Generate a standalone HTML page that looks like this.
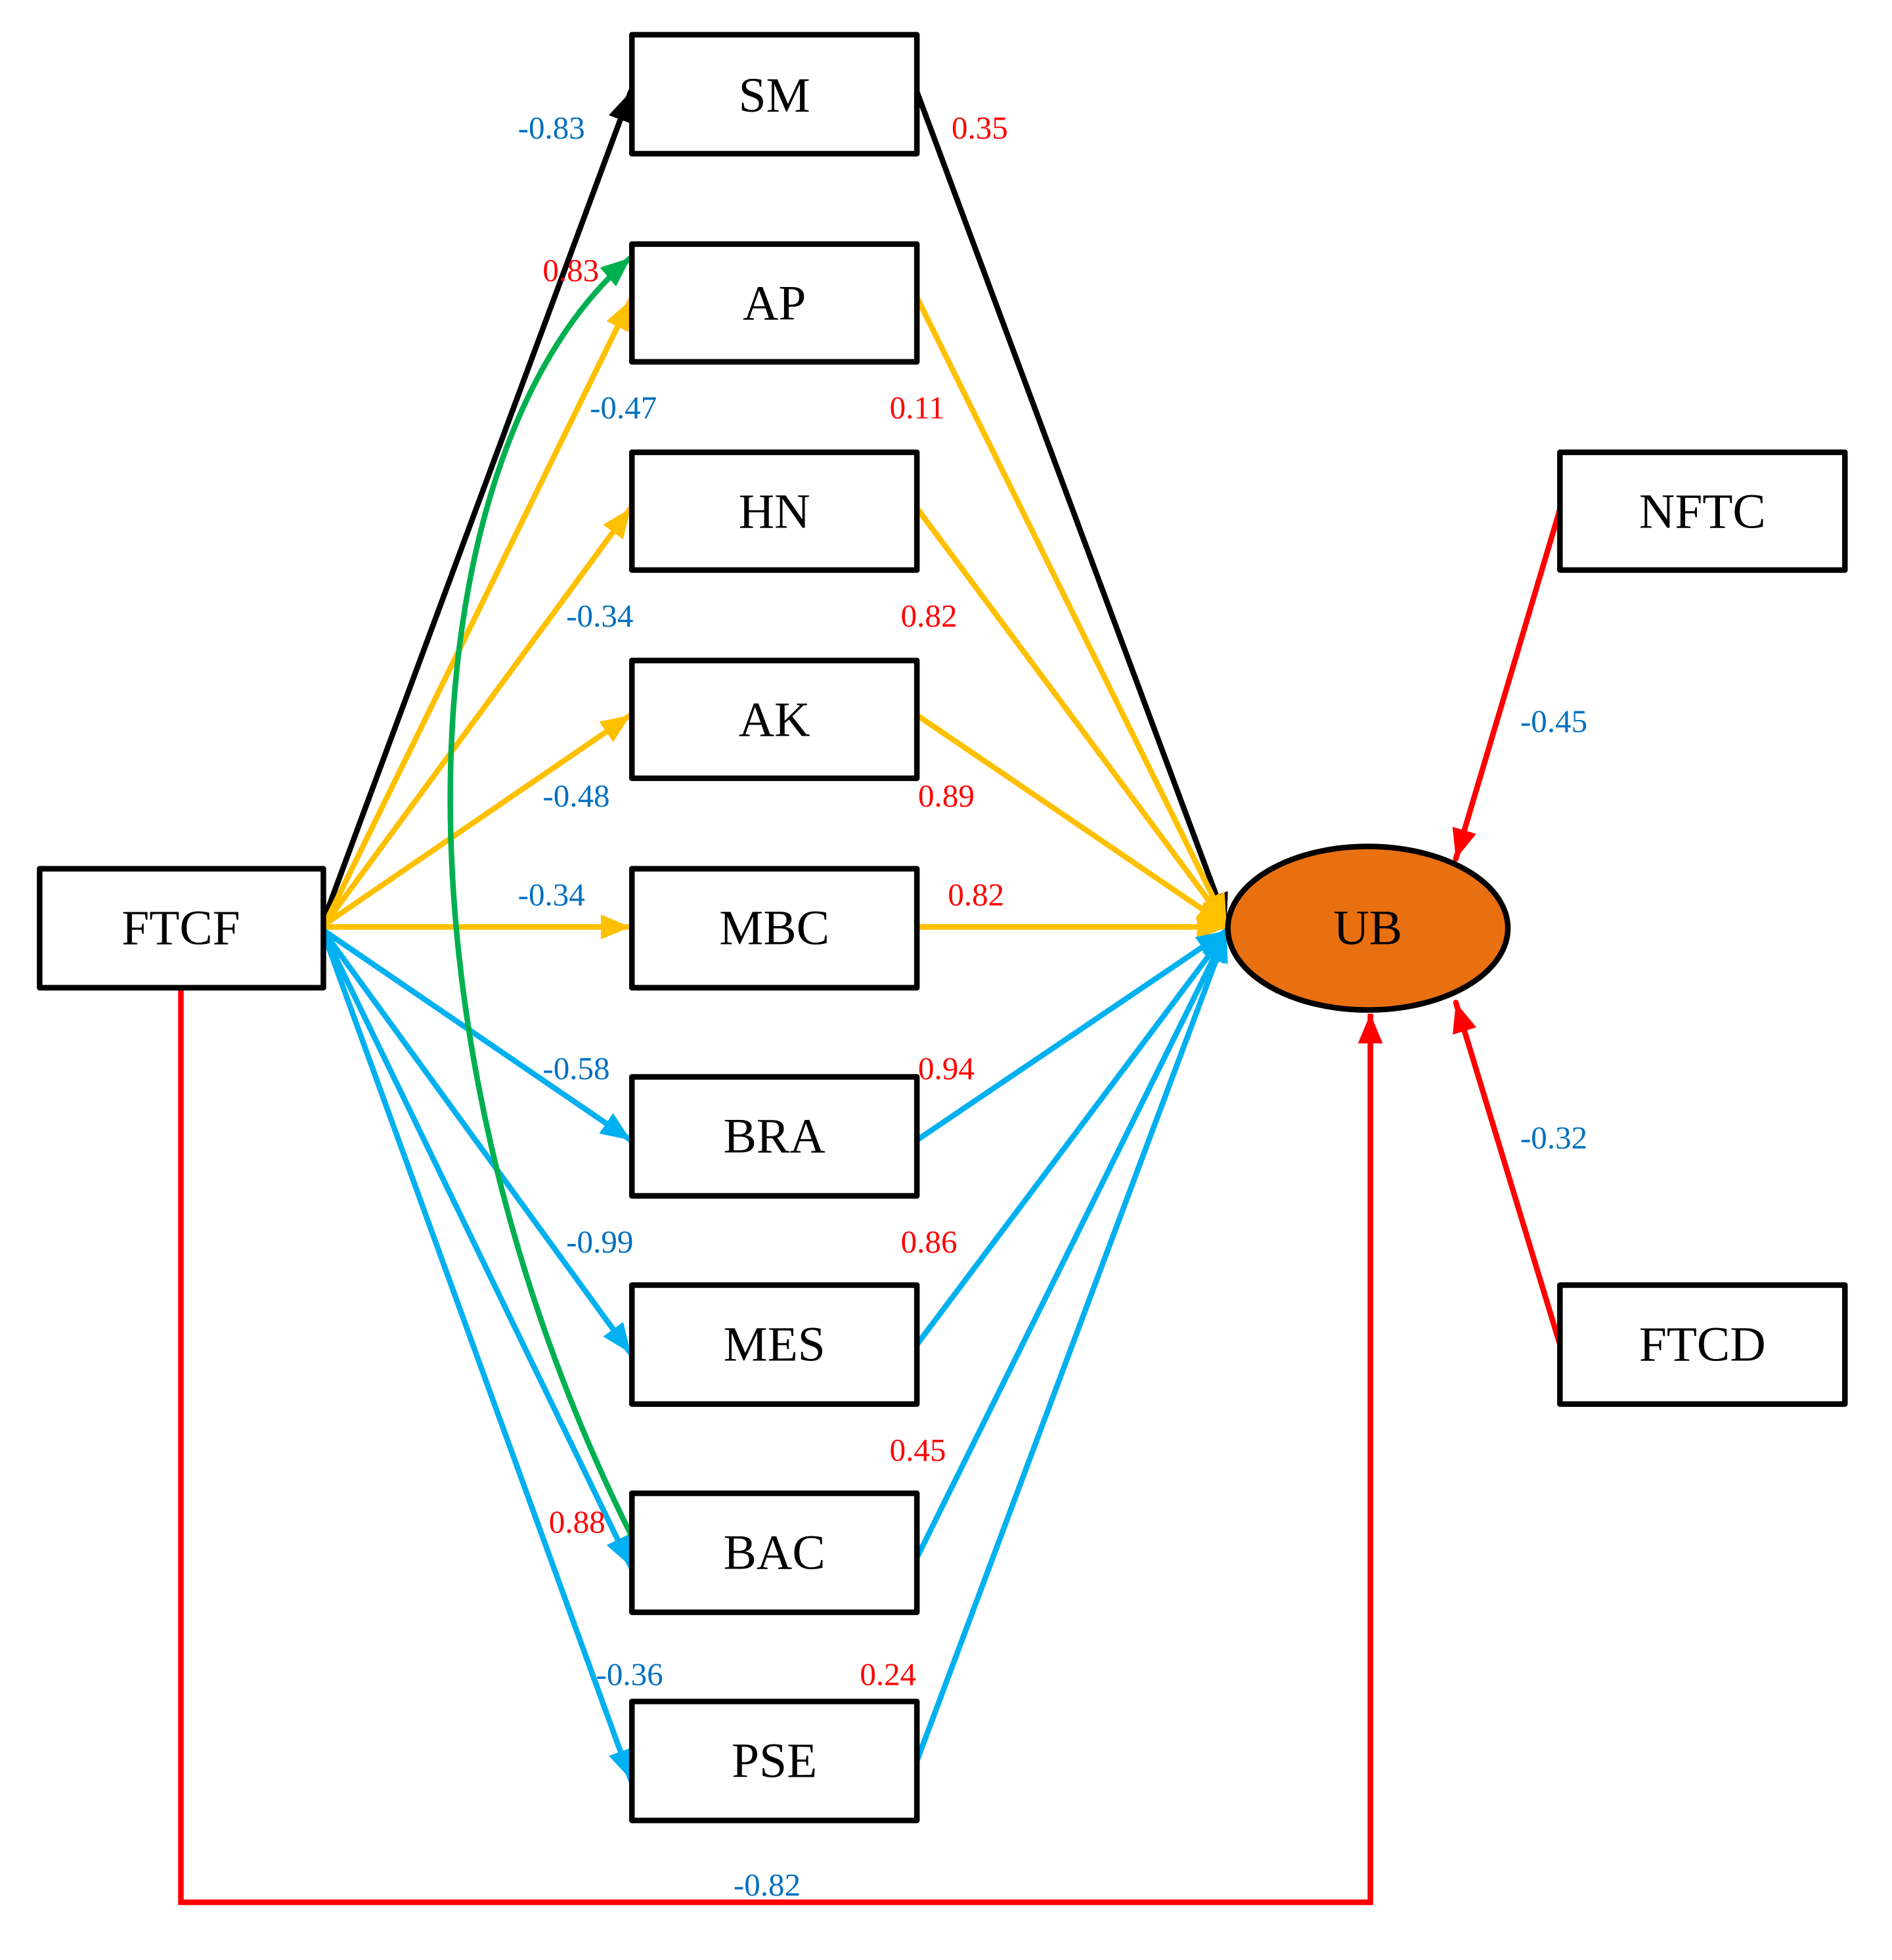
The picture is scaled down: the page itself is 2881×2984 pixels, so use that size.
<!DOCTYPE html>
<html><head><meta charset="utf-8"><style>
html,body{margin:0;padding:0;background:#fff}
svg{display:block}
text{font-family:"Liberation Serif",serif}
.n{font-size:40px;fill:#000;text-anchor:middle;dominant-baseline:central}
.b{font-size:26px;fill:#0070C0;dominant-baseline:central}
.r{font-size:26px;fill:#FF0000;dominant-baseline:central}
</style></head><body>
<svg width="2881" height="2984" viewBox="0 0 1527 1581.6" xmlns="http://www.w3.org/2000/svg">
<defs>
<marker id="mk" markerUnits="userSpaceOnUse" markerWidth="28" markerHeight="22" refX="24" refY="10" orient="auto"><path d="M0,0 L24,10 L0,20 Z" fill="#000"/></marker>
<marker id="my" markerUnits="userSpaceOnUse" markerWidth="28" markerHeight="22" refX="24" refY="10" orient="auto"><path d="M0,0 L24,10 L0,20 Z" fill="#FFC000"/></marker>
<marker id="mb" markerUnits="userSpaceOnUse" markerWidth="28" markerHeight="22" refX="24" refY="10" orient="auto"><path d="M0,0 L24,10 L0,20 Z" fill="#00B0F0"/></marker>
<marker id="mg" markerUnits="userSpaceOnUse" markerWidth="28" markerHeight="22" refX="24" refY="10" orient="auto"><path d="M0,0 L24,10 L0,20 Z" fill="#00B050"/></marker>
<marker id="mr" markerUnits="userSpaceOnUse" markerWidth="28" markerHeight="22" refX="24" refY="10" orient="auto"><path d="M0,0 L24,10 L0,20 Z" fill="#FF0000"/></marker>
</defs>
<g fill="none" stroke-width="4.5" stroke-linecap="round">
<!-- FTCF to boxes -->
<line x1="260" y1="746" x2="509" y2="74" stroke="#000" marker-end="url(#mk)"/>
<line x1="262" y1="746" x2="509" y2="242" stroke="#FFC000" marker-end="url(#my)"/>
<line x1="262" y1="746" x2="509" y2="410" stroke="#FFC000" marker-end="url(#my)"/>
<line x1="262" y1="746" x2="509" y2="577" stroke="#FFC000" marker-end="url(#my)"/>
<line x1="262" y1="748" x2="509" y2="748" stroke="#FFC000" marker-end="url(#my)"/>
<line x1="260" y1="750" x2="509" y2="920" stroke="#00B0F0" marker-end="url(#mb)"/>
<line x1="260" y1="750" x2="509" y2="1092" stroke="#00B0F0" marker-end="url(#mb)"/>
<line x1="260" y1="750" x2="509" y2="1264" stroke="#00B0F0" marker-end="url(#mb)"/>
<line x1="260" y1="750" x2="509" y2="1436" stroke="#00B0F0" marker-end="url(#mb)"/>
<!-- boxes to UB -->
<line x1="740" y1="74" x2="990" y2="745" stroke="#000" marker-end="url(#mk)"/>
<line x1="740" y1="240" x2="990" y2="746" stroke="#FFC000" marker-end="url(#my)"/>
<line x1="740" y1="410" x2="990" y2="746" stroke="#FFC000" marker-end="url(#my)"/>
<line x1="740" y1="577" x2="990" y2="747" stroke="#FFC000" marker-end="url(#my)"/>
<line x1="740" y1="748" x2="990" y2="748" stroke="#FFC000" marker-end="url(#my)"/>
<line x1="740" y1="920" x2="990" y2="751" stroke="#00B0F0" marker-end="url(#mb)"/>
<line x1="740" y1="1085" x2="990" y2="752" stroke="#00B0F0" marker-end="url(#mb)"/>
<line x1="740" y1="1257" x2="990" y2="752" stroke="#00B0F0" marker-end="url(#mb)"/>
<line x1="740" y1="1421" x2="990" y2="752" stroke="#00B0F0" marker-end="url(#mb)"/>
<!-- green curve -->
<path d="M510,1240 C300,820 330,360 509,208" stroke="#00B050" marker-end="url(#mg)"/>
<!-- red -->
<path d="M146,797 L146,1535 L1106,1535 L1106,818" stroke="#FF0000" stroke-linecap="butt" stroke-linejoin="miter" marker-end="url(#mr)"/>
<line x1="1259" y1="411" x2="1175" y2="693" stroke="#FF0000" marker-end="url(#mr)"/>
<line x1="1259" y1="1085" x2="1175" y2="809" stroke="#FF0000" marker-end="url(#mr)"/>
</g>
<g fill="#fff" stroke="#000" stroke-width="4.5" stroke-linejoin="round">
<rect x="510" y="28" width="230" height="96"/>
<rect x="510" y="197" width="230" height="95"/>
<rect x="510" y="365" width="230" height="95"/>
<rect x="510" y="533" width="230" height="95"/>
<rect x="510" y="701" width="230" height="96"/>
<rect x="510" y="869" width="230" height="96"/>
<rect x="510" y="1037" width="230" height="96"/>
<rect x="510" y="1205" width="230" height="96"/>
<rect x="510" y="1373" width="230" height="96"/>
<rect x="32" y="701" width="229" height="96"/>
<rect x="1259" y="365" width="230" height="95"/>
<rect x="1259" y="1037" width="230" height="96"/>
<ellipse cx="1104" cy="749" rx="113" ry="66" fill="#E97010"/>
</g>
<text class="n" x="625" y="77">SM</text>
<text class="n" x="625" y="245">AP</text>
<text class="n" x="625" y="413">HN</text>
<text class="n" x="625" y="581">AK</text>
<text class="n" x="625" y="749">MBC</text>
<text class="n" x="625" y="917">BRA</text>
<text class="n" x="625" y="1085">MES</text>
<text class="n" x="625" y="1253">BAC</text>
<text class="n" x="625" y="1421">PSE</text>
<text class="n" x="146" y="749">FTCF</text>
<text class="n" x="1374" y="413">NFTC</text>
<text class="n" x="1374" y="1085">FTCD</text>
<text class="n" x="1104" y="749">UB</text>
<text class="b" x="418" y="103">-0.83</text>
<text class="r" x="768" y="103">0.35</text>
<text class="r" x="438" y="218">0.83</text>
<text class="b" x="476" y="329">-0.47</text>
<text class="r" x="718" y="329">0.11</text>
<text class="b" x="457" y="497">-0.34</text>
<text class="r" x="727" y="497">0.82</text>
<text class="b" x="438" y="642">-0.48</text>
<text class="r" x="741" y="642">0.89</text>
<text class="b" x="418" y="722">-0.34</text>
<text class="r" x="765" y="722">0.82</text>
<text class="b" x="438" y="862">-0.58</text>
<text class="r" x="741" y="862">0.94</text>
<text class="b" x="457" y="1002">-0.99</text>
<text class="r" x="727" y="1002">0.86</text>
<text class="r" x="718" y="1170">0.45</text>
<text class="r" x="443" y="1228">0.88</text>
<text class="b" x="481" y="1351">-0.36</text>
<text class="r" x="694" y="1351">0.24</text>
<text class="b" x="592" y="1521">-0.82</text>
<text class="b" x="1227" y="582">-0.45</text>
<text class="b" x="1227" y="918">-0.32</text>
</svg>
</body></html>
